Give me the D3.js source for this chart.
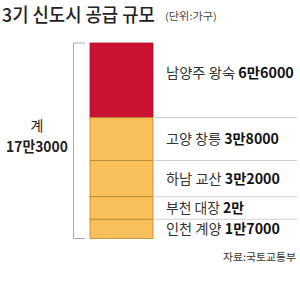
<!DOCTYPE html>
<html><head><meta charset="utf-8">
<script src="https://cdn.jsdelivr.net/npm/d3@7"></script>
<style>html,body{margin:0;padding:0;background:#fff;}svg{display:block;}</style>
</head><body>
<svg id="c" width="300" height="293"></svg>
<script>
const regions = ["남양주 왕숙", "고양 창릉", "하남 교산", "부천 대장", "인천 계양"];
const values = [66000, 38000, 32000, 20000, 17000];
const valueLabels = ["6만6000", "3만8000", "3만2000", "2만", "1만7000"];
const labelWidths = [128, 113, 114, 78, 114];
const totalLabel = "17만3000";
const title = "3기 신도시 공급 규모";
const unit = "(단위:가구)";
const source = "자료:국토교통부";

const svg = d3.select("#c");
const font = "'Noto Sans CJK KR', sans-serif";
const total = d3.sum(values);
const y = d3.scaleLinear().domain([0, total]).range([43, 238.5]);
const barX0 = 90, barX1 = 153;
let acc = 0;
const segs = values.map((v, i) => { const s = {i, v, y0: acc, y1: acc + v}; acc += v; return s; });

function fitX(sel, w, x) {
  sel.each(function() {
    const len = this.getComputedTextLength();
    const sx = w / len;
    d3.select(this).attr("x", 0).attr("transform", `translate(${x},${+d3.select(this).attr("data-y")}) scale(${sx},1)`).attr("y", 0);
  });
}

// title
svg.append("text").attr("data-y", 22).attr("font-family", font).attr("font-size", 19)
  .attr("font-weight", 500).attr("fill", "#222").text(title).call(fitX, 153, 2);
svg.append("text").attr("data-y", 20).attr("font-family", font).attr("font-size", 10)
  .attr("fill", "#444").text(unit).call(fitX, 52, 165);

// bars
svg.selectAll("rect.seg").data(segs).join("rect").attr("class", "seg")
  .attr("x", barX0).attr("width", barX1 - barX0)
  .attr("y", d => y(d.y0)).attr("height", d => y(d.y1) - y(d.y0))
  .attr("fill", d => d.i === 0 ? "#cc1232" : "#f9bf5a")
  .attr("stroke", d => d.i === 0 ? "#a80f28" : "#b8862e").attr("stroke-width", 0.8);

// separators on right
svg.selectAll("line.sep").data(segs.slice(1)).join("line").attr("class", "sep")
  .attr("x1", barX1).attr("x2", 297)
  .attr("y1", d => y(d.y0)).attr("y2", d => y(d.y0))
  .attr("stroke", "#d0d0d0").attr("stroke-width", 1);

// bracket
const bx = 73.5, bt = y(0), bb = y(total);
svg.append("path").attr("d", `M85,${bt}H${bx}V${bb}H85`).attr("fill", "none")
  .attr("stroke", "#aaa").attr("stroke-width", 1);
svg.append("text").attr("x", 37).attr("y", 131).attr("text-anchor", "middle")
  .attr("font-family", font).attr("font-size", 14).attr("fill", "#222").text("계");
svg.append("text").attr("data-y", 152).attr("font-family", font).attr("font-size", 15)
  .attr("font-weight", 700).attr("fill", "#222").text(totalLabel).call(fitX, 62, 6);

// labels
segs.forEach(d => {
  const cy = Math.min((y(d.y0) + y(d.y1)) / 2, y(d.y0) + 30) + 5;
  const t = svg.append("text").attr("data-y", cy).attr("font-family", font)
    .attr("font-size", 14).attr("fill", "#333");
  t.append("tspan").text(regions[d.i] + " ");
  t.append("tspan").attr("font-weight", 700).attr("fill", "#111").text(valueLabels[d.i]);
  t.call(fitX, labelWidths[d.i], 166);
});

svg.append("text").attr("data-y", 261).attr("font-family", font).attr("font-size", 10.5)
  .attr("fill", "#333").text(source).call(fitX, 73, 223);
</script>
</body></html>
